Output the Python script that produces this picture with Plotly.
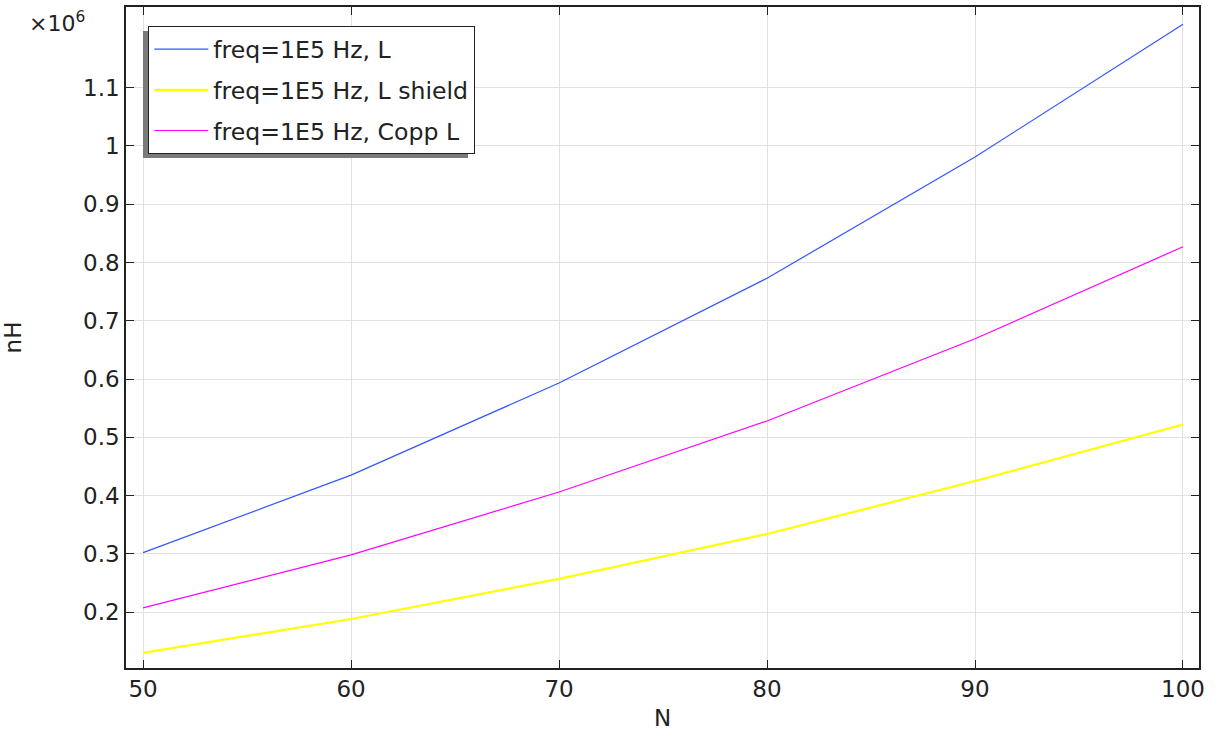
import plotly.graph_objects as go

N = [50, 60, 70, 80, 90, 100]
L_main = [0.302e6, 0.435e6, 0.593e6, 0.773e6, 0.981e6, 1.209e6]
L_shield = [0.130e6, 0.188e6, 0.257e6, 0.334e6, 0.425e6, 0.522e6]
L_copp = [0.207e6, 0.298e6, 0.406e6, 0.528e6, 0.669e6, 0.827e6]
names = ["freq=1E5 Hz, L", "freq=1E5 Hz, L shield", "freq=1E5 Hz, Copp L"]
colors = ["#3355ff", "#ffff00", "#ff00ff"]
widths = [1.2, 2.2, 1.2]
ytick_vals = [0.2, 0.3, 0.4, 0.5, 0.6, 0.7, 0.8, 0.9, 1.0, 1.1]
ytick_text = ["0.2", "0.3", "0.4", "0.5", "0.6", "0.7", "0.8", "0.9", "1", "1.1"]
SCALE = 1e6

FONT = "DejaVu Sans"
FS = 23
LFS = 23.6
TXT = "#222222"
fig = go.Figure()
for i, (ys, nm) in enumerate(zip([L_main, L_shield, L_copp], names)):
    fig.add_trace(go.Scatter(
        x=N, y=[v / SCALE for v in ys], mode="lines", name=nm,
        legendgroup=f"g{i}",
        line=dict(color=colors[i], width=widths[i]),
    ))

W, H = 1223, 732
ml, mr, mt, mb = 126, 24, 7, 64
pw, ph = W - ml - mr, H - mt - mb

def px2paper(x, y):
    return (x - ml) / pw, (H - mb - y) / ph

lx, ly = px2paper(148, 26)
sx0, sy0 = px2paper(143, 31)
sx1, sy1 = px2paper(468, 158)

fig.update_layout(
    width=W, height=H,
    margin=dict(l=ml, r=mr, t=mt, b=mb, autoexpand=False),
    paper_bgcolor="white", plot_bgcolor="white",
    font=dict(family=FONT, size=FS, color=TXT),
    showlegend=True,
    legend=dict(
        x=lx, y=ly, xanchor="left", yanchor="top",
        bgcolor="white", bordercolor="#222222", borderwidth=1.3,
        font=dict(family=FONT, size=LFS, color=TXT),
        tracegroupgap=7, traceorder="grouped", itemwidth=54,
    ),
    xaxis=dict(
        range=[49.18, 100.77], tickvals=[50, 60, 70, 80, 90, 100],
        showgrid=True, gridcolor="#e2e2e2", gridwidth=1,
        showline=True, linecolor="#222222", linewidth=1.5, mirror="ticks",
        ticks="inside", ticklen=8, tickcolor="#222222",
        zeroline=False,
        title=dict(text="N", font=dict(size=FS), standoff=9),
    ),
    yaxis=dict(
        range=[0.1039, 1.2386], tickvals=ytick_vals, ticktext=ytick_text,
        showgrid=True, gridcolor="#e2e2e2", gridwidth=1,
        showline=True, linecolor="#222222", linewidth=1.5, mirror="ticks",
        ticks="inside", ticklen=8, tickcolor="#222222",
        zeroline=False,
        title=dict(text="nH", font=dict(size=FS), standoff=58),
    ),
    shapes=[dict(type="rect", xref="paper", yref="paper",
                 x0=sx0, y0=sy1, x1=sx1, y1=sy0,
                 fillcolor="#7a7a7a", line=dict(width=0), layer="above")],
    annotations=[dict(text="×10<sup>6</sup>", xref="paper", yref="paper",
                      x=px2paper(27, 0)[0], y=px2paper(0, 22)[1],
                      xanchor="left", yanchor="middle", showarrow=False,
                      font=dict(family=FONT, size=22, color=TXT))],
)

fig.write_html("out.html")
